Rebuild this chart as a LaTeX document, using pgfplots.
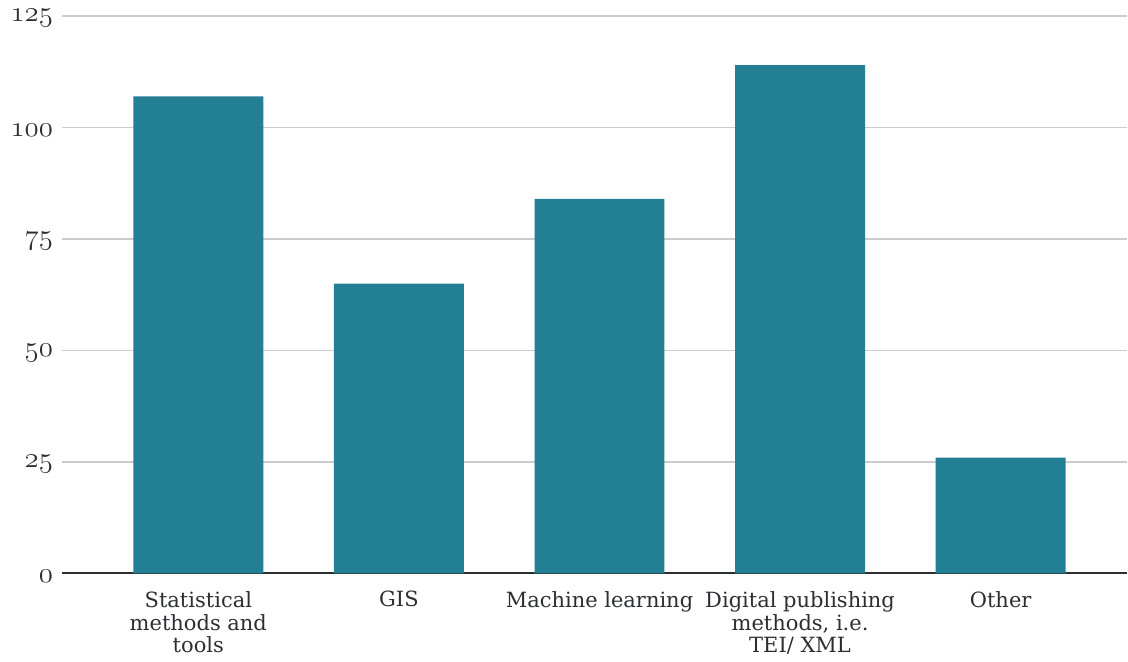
\documentclass[border=0pt]{standalone}
\usepackage{fontspec}
\setmainfont{DejaVu Serif}
\usepackage{pgfplots}
\pgfplotsset{compat=1.18}
\definecolor{bar}{HTML}{237F94}
\definecolor{ink}{HTML}{2B2F33}
\definecolor{gridc}{HTML}{CCCCCC}

\begin{document}
\begin{tikzpicture}
\begin{axis}[
  scale only axis,
  width=533pt, height=279pt,
  ybar, bar width=65pt,
  xmin=-0.68, xmax=4.63,
  ymin=0, ymax=125,
  ytick={0,25,50,75,100,125},
  yticklabels={$\mathnormal{0}$,$\mathnormal{25}$,$\mathnormal{50}$,$\mathnormal{75}$,$\mathnormal{100}$,$\mathnormal{125}$},
  y tick label style={font=\fontsize{14}{16}\selectfont, color=ink, xshift=-1pt, yshift=-1.2pt, inner ysep=1pt},
  xtick=data,
  xticklabels={{Statistical\\methods and\\tools}, GIS, Machine learning, {Digital publishing\\methods, i.e.\\TEI/ XML}, Other},
  x tick label style={font=\fontsize{10.5}{11.5}\selectfont, color=ink, align=center, anchor=north, yshift=-1pt},
  axis x line*=bottom, axis y line*=left,
  x axis line style={draw=ink, line width=1pt, -},
  y axis line style={draw=none},
  tick style={draw=none},
  ymajorgrids, grid style={draw=gridc, line width=0.8pt},
  enlargelimits=false,
  clip=false,
]
\addplot[fill=bar, draw=none] coordinates {
  (0,107) (1,65) (2,84) (3,114) (4,26)
};
\end{axis}
\path (-31pt,-41.5pt) rectangle (533pt,287pt);
\end{tikzpicture}
\end{document}
